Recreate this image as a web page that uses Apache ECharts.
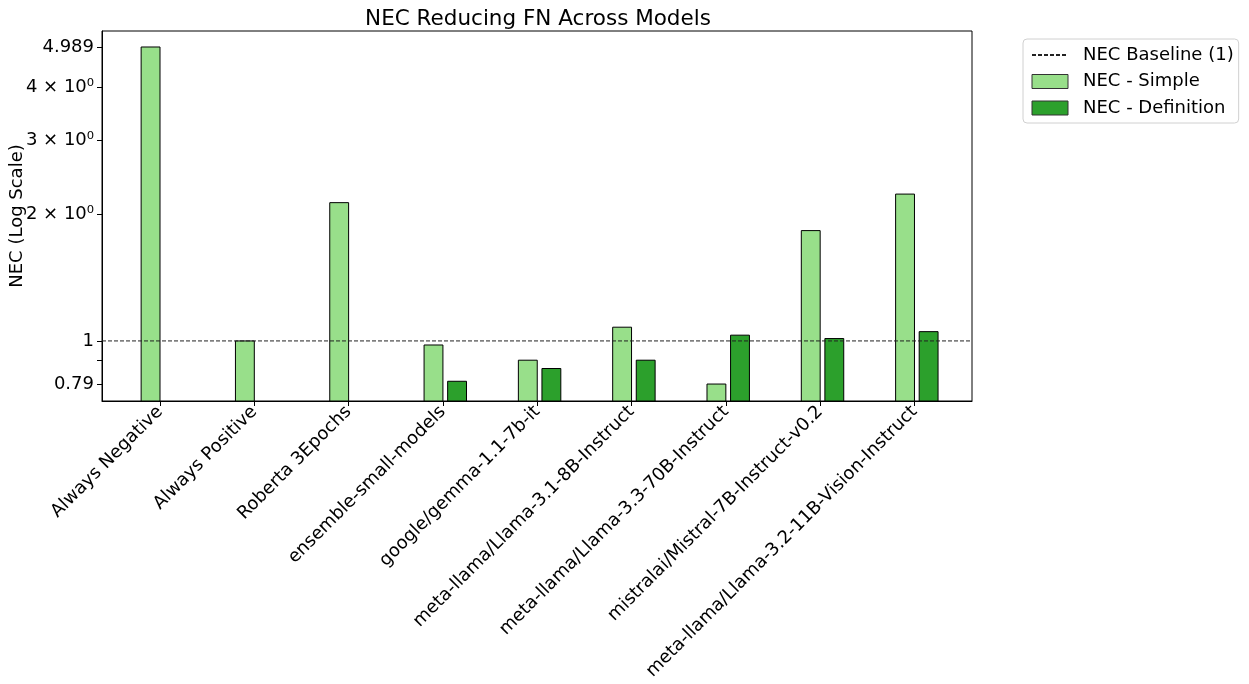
<!DOCTYPE html>
<html>
<head>
<meta charset="utf-8">
<script src="https://cdn.jsdelivr.net/npm/echarts@6/dist/echarts.min.js"></script>
<style>
html,body{margin:0;padding:0;background:#fff;}
#chart{width:1249px;height:684px;}
</style>
</head>
<body>
<div id="chart"></div>
<script>
const categories = [
  'Always Negative', 'Always Positive', 'Roberta 3Epochs', 'ensemble-small-models',
  'google/gemma-1.1-7b-it', 'meta-llama/Llama-3.1-8B-Instruct', 'meta-llama/Llama-3.3-70B-Instruct',
  'mistralai/Mistral-7B-Instruct-v0.2', 'meta-llama/Llama-3.2-11B-Vision-Instruct'
];
const simpleValues = [4.989, 1.0, 2.13, 0.978, 0.900, 1.078, 0.790, 1.828, 2.232];
const definitionValues = [null, null, null, 0.802, 0.860, 0.900, 1.032, 1.013, 1.052];
const baselineValue = 1;
const yTickValues = [0.79, 0.9, 1, 2, 3, 4, 4.989];
const yLabelValues = [0.79, 1, 2, 3, 4, 4.989];
const yLabelTexts = ['0.79', '1', '2 × 10⁰', '3 × 10⁰', '4 × 10⁰', '4.989'];
const yMin = 0.72, yMax = 5.445;
const xMin = -0.615, xMax = 8.61;

const FONT = 'DejaVu Sans';
const BAR_W = 0.2;
const chart = echarts.init(document.getElementById('chart'), null, {renderer: 'canvas'});

function pairs(vals) {
  const out = [];
  vals.forEach((v, i) => { if (v != null) out.push([i, v]); });
  return out;
}
function barRenderer(offset) {
  return function (params, api) {
    const i = api.value(0), v = api.value(1);
    const tl = api.coord([i + offset - BAR_W / 2, v]);
    const br = api.coord([i + offset + BAR_W / 2, yMin]);
    return {
      type: 'rect',
      shape: {x: tl[0], y: tl[1], width: br[0] - tl[0], height: br[1] - tl[1]},
      style: api.style()
    };
  };
}

const option = {
  animation: false,
  textStyle: {fontFamily: FONT},
  title: {
    text: 'NEC Reducing FN Across Models',
    left: 533, top: 3, textAlign: 'center',
    textStyle: {fontFamily: FONT, fontSize: 21.5, fontWeight: 'normal', color: '#000'}
  },
  legend: {
    orient: 'vertical', left: 1023, top: 39,
    itemWidth: 36, itemHeight: 14, itemGap: 8.5,
    padding: [7, 5, 6, 8],
    borderColor: '#d0d0d0', borderWidth: 1, borderRadius: 4,
    textStyle: {fontFamily: FONT, fontSize: 18, lineHeight: 18, color: '#000', padding: [0, 0, 0, 10]},
    data: [
      {name: 'NEC Baseline (1)', itemStyle: {opacity: 0}},
      {name: 'NEC - Simple', icon: 'rect', itemStyle: {borderColor: '#333', borderWidth: 1}},
      {name: 'NEC - Definition', icon: 'rect', itemStyle: {borderColor: '#333', borderWidth: 1}}
    ]
  },
  grid: {
    left: 102, top: 31, width: 870, height: 370,
    outerBoundsMode: 'none', containLabel: false,
    show: true, borderColor: '#000', borderWidth: 1, backgroundColor: 'transparent'
  },
  xAxis: {
    type: 'value', min: xMin, max: xMax,
    splitLine: {show: false},
    axisLine: {show: true, onZero: false, lineStyle: {color: '#000'}},
    axisTick: {show: true, length: 5, lineStyle: {color: '#000'}, customValues: categories.map((c, i) => i)},
    axisLabel: {
      customValues: categories.map((c, i) => i),
      rotate: 45, margin: 8,
      fontFamily: FONT, fontSize: 18, color: '#000',
      formatter: v => categories[Math.round(v)] || ''
    }
  },
  yAxis: {
    type: 'log', logBase: 10, min: yMin, max: yMax,
    name: 'NEC (Log Scale)', nameLocation: 'middle', nameGap: 76, nameMoveOverlap: false,
    nameTextStyle: {fontFamily: FONT, fontSize: 18, color: '#000'},
    splitLine: {show: false},
    minorTick: {show: false},
    axisLine: {show: true, onZero: false, lineStyle: {color: '#000'}},
    axisTick: {show: true, length: 5, lineStyle: {color: '#000'}, customValues: yTickValues},
    axisLabel: {
      customValues: yLabelValues, margin: 8,
      fontFamily: FONT, fontSize: 18, color: '#000',
      formatter: v => {
        const idx = yLabelValues.findIndex(t => Math.abs(t - v) < 1e-6);
        return idx >= 0 ? yLabelTexts[idx] : '';
      }
    }
  },
  series: [
    {
      name: 'NEC - Simple', type: 'custom', clip: true, z: 2,
      renderItem: barRenderer(-0.1),
      itemStyle: {color: '#98df8a', borderColor: '#000', borderWidth: 1},
      encode: {x: 0, y: 1},
      data: pairs(simpleValues)
    },
    {
      name: 'NEC - Definition', type: 'custom', clip: true, z: 2,
      renderItem: barRenderer(0.15),
      itemStyle: {color: '#2ca02c', borderColor: '#000', borderWidth: 1},
      encode: {x: 0, y: 1},
      data: pairs(definitionValues)
    },
    {
      name: 'NEC Baseline (1)', type: 'line', symbol: 'none', z: 5,
      lineStyle: {color: '#222', width: 1, type: [4, 2]},
      itemStyle: {color: '#222'},
      data: [[xMin, baselineValue], [xMax, baselineValue]]
    }
  ]
};
chart.setOption(option);
</script>
</body>
</html>
